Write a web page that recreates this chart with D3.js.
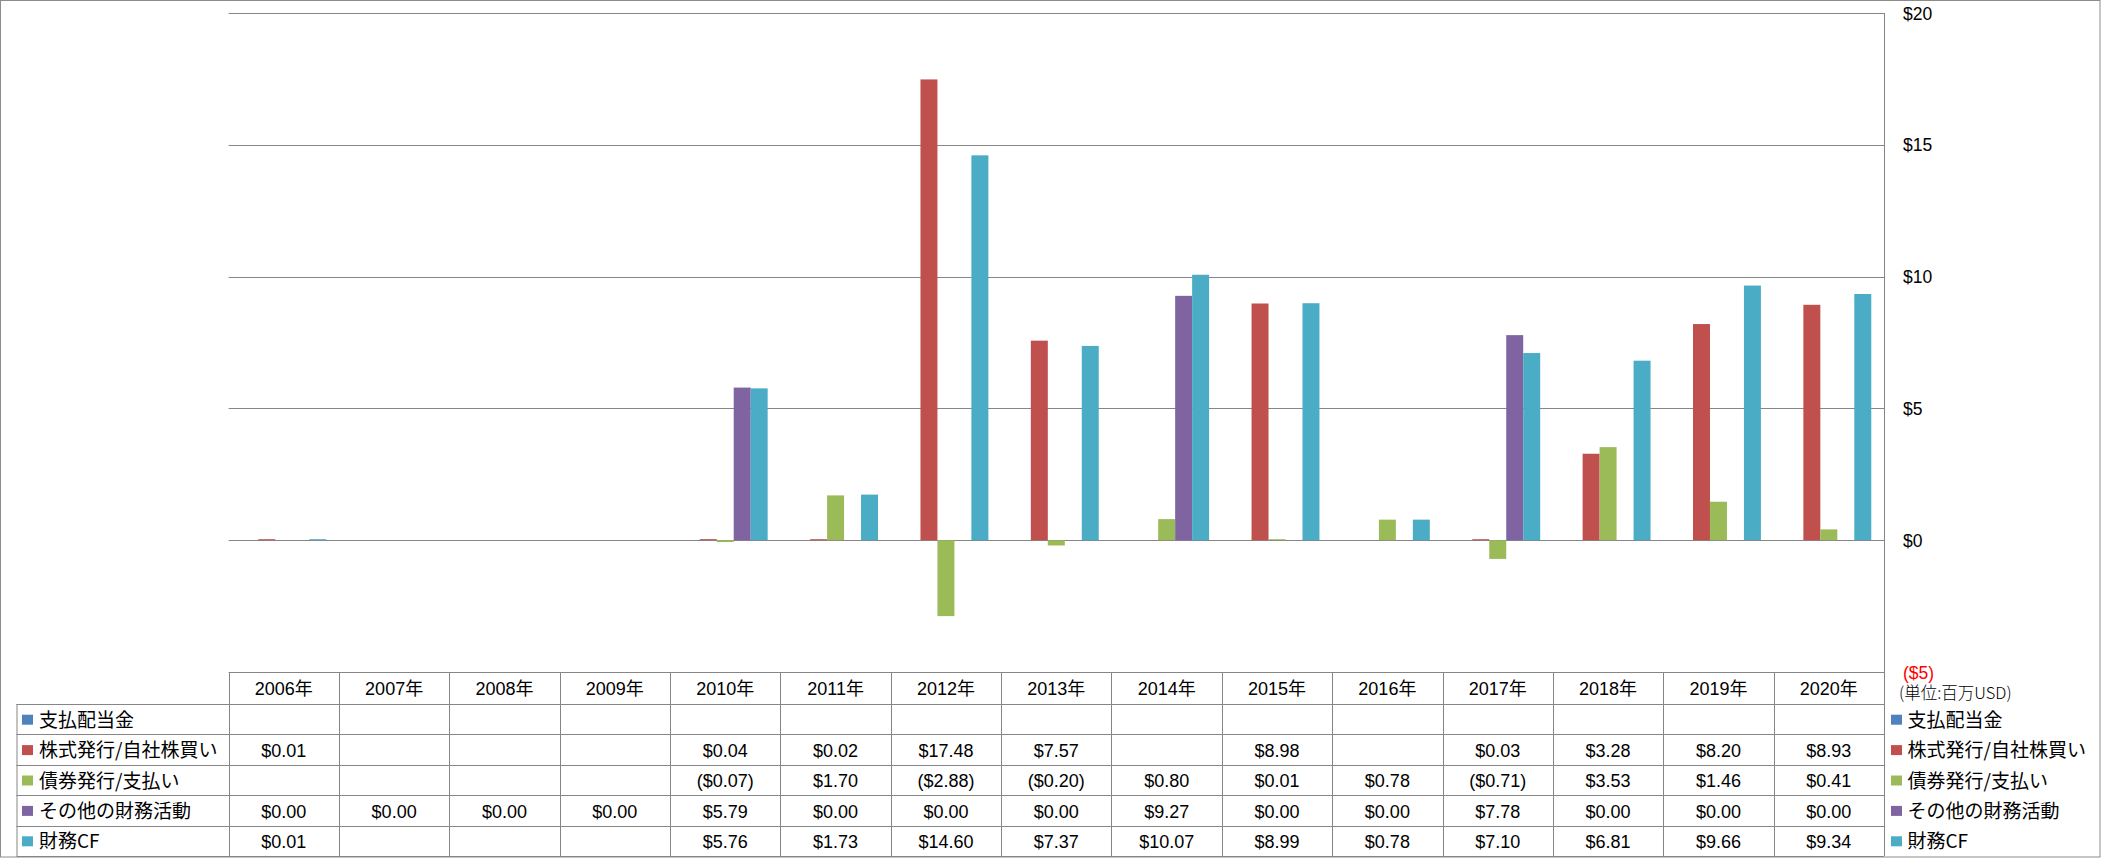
<!DOCTYPE html>
<html><head><meta charset="utf-8">
<script src="https://cdn.jsdelivr.net/npm/d3@7/dist/d3.min.js"></script>
<style>body{margin:0;background:#fff;} svg{display:block;}</style>
</head><body>
<script>
// ---- data ----
const years = ["2006年","2007年","2008年","2009年","2010年","2011年","2012年","2013年","2014年","2015年","2016年","2017年","2018年","2019年","2020年"];
const seriesNames = ["支払配当金","株式発行/自社株買い","債券発行/支払い","その他の財務活動","財務CF"];
const dividends   = [null,null,null,null,null,null,null,null,null,null,null,null,null,null,null];
const stockIssue  = [0.01,null,null,null,0.04,0.02,17.48,7.57,null,8.98,null,0.03,3.28,8.20,8.93];
const bondIssue   = [null,null,null,null,-0.07,1.70,-2.88,-0.20,0.80,0.01,0.78,-0.71,3.53,1.46,0.41];
const otherFin    = [0.00,0.00,0.00,0.00,5.79,0.00,0.00,0.00,9.27,0.00,0.00,7.78,0.00,0.00,0.00];
const financingCF = [0.01,null,null,null,5.76,1.73,14.60,7.37,10.07,8.99,0.78,7.10,6.81,9.66,9.34];
const seriesColors = ["#4F81BD","#C0504D","#9BBB59","#8064A2","#4BACC6"];
const yTicks = [20,15,10,5,0,-5];
const unitLabel = "(単位:百万USD)";

const seriesValues = [dividends, stockIssue, bondIssue, otherFin, financingCF];

// ---- layout ----
const W = 2101, H = 858;
const plotL = 228.6, plotR = 1884, plotT = 13, plotB = 672;
const headerBottom = 704, tableBottom = 856, tableLeft = 16.5;
const rowH = (tableBottom - headerBottom) / seriesNames.length;
const gridColor = "#868686";
const latin = "'Liberation Sans', Arial, 'Noto Sans CJK JP', sans-serif";
const cjk = "'Noto Sans CJK JP', 'Liberation Sans', sans-serif";

const svg = d3.select("body").append("svg").attr("width", W).attr("height", H);

svg.append("rect").attr("x",0.5).attr("y",0.5).attr("width",W-1.5).attr("height",H-1.5)
  .attr("fill","#fff").attr("stroke","#8c8c8c").attr("stroke-width",1);

const y = d3.scaleLinear().domain([-5,20]).range([plotB, plotT]);
const xCol = d3.scaleBand().domain(years).range([plotL, plotR]).padding(0);
const x0 = d3.scaleBand().domain(years).range([plotL, plotR])
  .paddingInner(1.5/6.5).paddingOuter(0.75/6.5);
const x1 = d3.scaleBand().domain(d3.range(seriesNames.length)).range([0, x0.bandwidth()]);

// gridlines
svg.append("g").selectAll("line").data(yTicks.filter(t => t > -5)).join("line")
  .attr("x1", plotL).attr("x2", plotR)
  .attr("y1", d => Math.round(y(d)) + 0.5).attr("y2", d => Math.round(y(d)) + 0.5)
  .attr("stroke", gridColor).attr("stroke-width", 1);

// bars
const barData = [];
seriesValues.forEach((vals, si) => vals.forEach((v, i) => {
  if (v !== null && v !== 0) barData.push({si, i, v});
}));
svg.append("g").selectAll("rect").data(barData).join("rect")
  .attr("x", d => x0(years[d.i]) + x1(d.si))
  .attr("width", x1.bandwidth())
  .attr("y", d => {
    const h = Math.max(1, Math.abs(y(d.v) - y(0)));
    return d.v >= 0 ? y(0) - h : y(0);
  })
  .attr("height", d => Math.max(1, Math.abs(y(d.v) - y(0))))
  .attr("fill", d => seriesColors[d.si]);

// right axis line
svg.append("line").attr("x1", plotR + 0.5).attr("x2", plotR + 0.5)
  .attr("y1", plotT).attr("y2", tableBottom).attr("stroke", gridColor);

// right axis labels
const fmtTick = v => v < 0 ? "($" + Math.abs(v) + ")" : "$" + v;
const yAxis = d3.axisRight(y).tickValues(yTicks).tickFormat(fmtTick).tickSize(0).tickPadding(0);
const ax = svg.append("g").attr("transform", `translate(1903,0)`).call(yAxis);
ax.select(".domain").remove();
ax.selectAll("text").attr("font-family", latin).attr("font-size", 17.5)
  .attr("fill", d => d < 0 ? "#FF0000" : "#000").attr("x", 0).attr("dy", "0.35em");

svg.append("text").attr("x", 1899).attr("y", 693).attr("dy", "0.35em")
  .attr("font-family", cjk).attr("font-size", 16.5).attr("font-weight", 300).attr("fill", "#000").text(unitLabel);

// ---- data table ----
const tg = svg.append("g");
// header row top line
tg.append("line").attr("x1", plotL).attr("x2", plotR).attr("y1", plotB + 0.5).attr("y2", plotB + 0.5).attr("stroke", gridColor);
// row lines
d3.range(seriesNames.length + 1).forEach(r => {
  const yy = Math.round(headerBottom + r * rowH) + 0.5;
  tg.append("line").attr("x1", tableLeft).attr("x2", plotR).attr("y1", yy).attr("y2", yy).attr("stroke", gridColor);
});
// vertical lines
tg.append("line").attr("x1", tableLeft + 0.5).attr("x2", tableLeft + 0.5).attr("y1", headerBottom).attr("y2", tableBottom).attr("stroke", gridColor);
years.forEach(yr => {
  const xx = Math.round(xCol(yr)) + 0.5;
  tg.append("line").attr("x1", xx).attr("x2", xx).attr("y1", plotB).attr("y2", tableBottom).attr("stroke", gridColor);
});
// header text
tg.selectAll("text.hdr").data(years).join("text").attr("class", "hdr")
  .attr("x", d => xCol(d) + xCol.bandwidth() / 2).attr("y", (plotB + headerBottom) / 2 + 1)
  .attr("dy", "0.35em").attr("text-anchor", "middle")
  .attr("font-family", latin).attr("font-size", 18).text(d => d);

const fmtVal = v => v === null ? "" : (v < 0 ? "($" + Math.abs(v).toFixed(2) + ")" : "$" + v.toFixed(2));

seriesNames.forEach((name, si) => {
  const cy = headerBottom + si * rowH + rowH / 2 + 1;
  // left legend
  tg.append("rect").attr("x", 22).attr("y", cy - 5.5).attr("width", 11).attr("height", 10).attr("fill", seriesColors[si]);
  tg.append("text").attr("x", 39).attr("y", cy).attr("dy", "0.35em")
    .attr("font-family", cjk).attr("font-size", 19).text(name);
  // right legend
  tg.append("rect").attr("x", 1891).attr("y", cy - 5.5).attr("width", 11).attr("height", 10).attr("fill", seriesColors[si]);
  tg.append("text").attr("x", 1907.5).attr("y", cy).attr("dy", "0.35em")
    .attr("font-family", cjk).attr("font-size", 19).text(name);
  // values
  tg.selectAll(null).data(seriesValues[si]).join("text")
    .attr("x", (d, i) => xCol(years[i]) + xCol.bandwidth() / 2).attr("y", cy)
    .attr("dy", "0.35em").attr("text-anchor", "middle")
    .attr("font-family", latin).attr("font-size", 18).text(d => fmtVal(d));
});
</script>
</body></html>
